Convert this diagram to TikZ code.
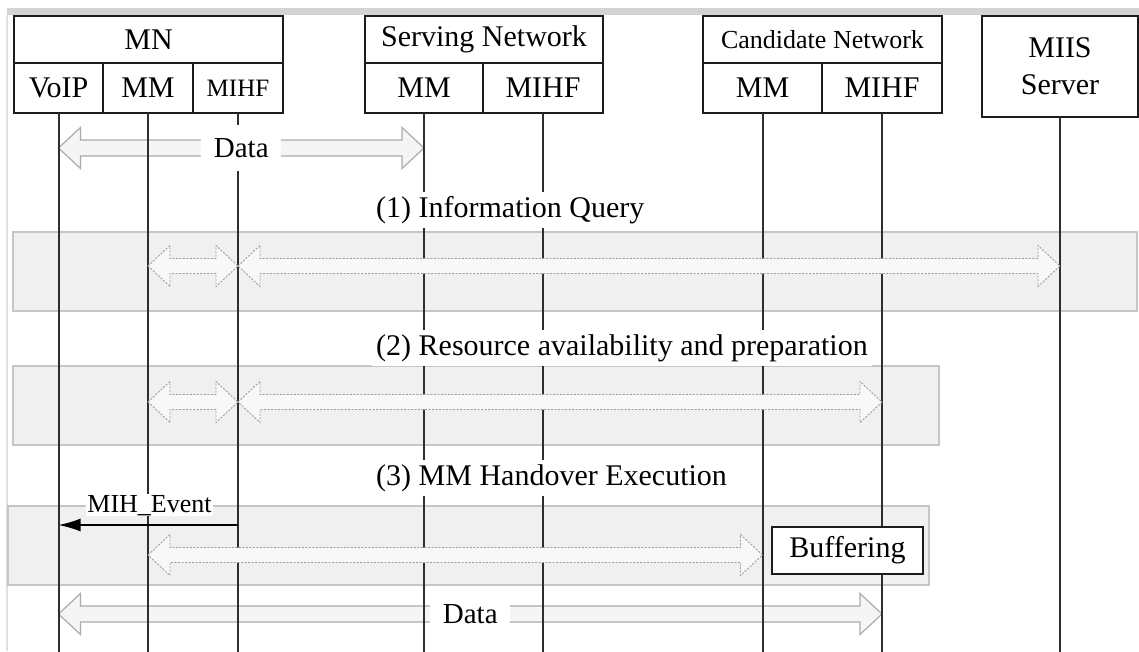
\documentclass[tikz,border=0pt]{standalone}
\usepackage{fontspec}
\setmainfont{Liberation Serif}
\usepackage{xcolor}
\usetikzlibrary{positioning,calc,arrows.meta}

\definecolor{boxline}{HTML}{1C1C1C}
\definecolor{lifecol}{HTML}{2E2E2E}
\definecolor{phasefill}{HTML}{F0F0F0}
\definecolor{phaseline}{HTML}{C6C6C6}
\definecolor{datafill}{HTML}{F5F5F5}
\definecolor{dataline}{HTML}{ABABAB}
\definecolor{queryfill}{HTML}{F8F8F8}
\definecolor{queryline}{HTML}{9C9C9C}
\definecolor{framecol}{HTML}{D3D3D3}

\tikzset{
  hdr/.style={draw=boxline, line width=2pt, rectangle, fill=white, inner sep=0pt, outer sep=0pt, minimum height=47pt, font=\fontsize{30}{37}\selectfont},
  cell/.style={hdr, minimum height=50pt},
  life/.style={draw=lifecol, line width=2pt},
  phase/.style={draw=phaseline, fill=phasefill, line width=1.4pt},
  fatarrow/.style 2 args={to path={let \p1=(\tikztostart), \p2=(\tikztotarget) in
    (\x1,\y1) -- (\x1+22pt,\y1+#1) -- (\x1+22pt,\y1+#2) -- (\x2-22pt,\y1+#2)
    -- (\x2-22pt,\y1+#1) -- (\x2,\y1) -- (\x2-22pt,\y1-#1) -- (\x2-22pt,\y1-#2)
    -- (\x1+22pt,\y1-#2) -- (\x1+22pt,\y1-#1) -- cycle}},
  dataarrow/.style={draw=dataline, fill=datafill, line width=1.2pt, fatarrow={20.5pt}{8pt}},
  queryarrow/.style={draw=queryline, fill=queryfill, line width=0.9pt, dash pattern=on 2pt off 1.5pt, fatarrow={20.5pt}{7.5pt}},
  datalbl/.style={fill=white, inner sep=0pt, minimum width=80pt, minimum height=46pt, font=\fontsize{29}{34}\selectfont},
  phaselbl/.style={fill=white, inner sep=4pt, anchor=west, font=\fontsize{30}{36}\selectfont},
  evlbl/.style={fill=white, inner sep=1pt, anchor=base, font=\fontsize{26}{30}\selectfont}
}

\begin{document}
\begin{tikzpicture}[x=1pt, y=-1pt]
  \useasboundingbox (0,0) rectangle (1139,651);
  \fill[framecol] (7,8) rectangle (1139,15);
  \draw[framecol!70, line width=1.2pt] (7,15) -- (7,651);

  \node[hdr, minimum width=269pt] (mn) at (148.5,39.5) {MN};
  \node[cell, minimum width=89pt, below right=0pt and 0pt of mn.south west] (voip) {VoIP};
  \node[cell, minimum width=90pt, right=0pt of voip] (mma) {MM};
  \node[cell, minimum width=90pt, right=0pt of mma, font=\fontsize{25}{30}\selectfont] (mihfa) {MIHF};

  \node[hdr, minimum width=238pt] (srv) at (484,39.5) {Serving Network};
  \node[cell, minimum width=118pt, below right=0pt and 0pt of srv.south west] (mmb) {MM};
  \node[cell, minimum width=120pt, right=0pt of mmb] (mihfb) {MIHF};

  \node[hdr, minimum width=239pt, font=\fontsize{26}{30}\selectfont] (cand) at (822.5,39.5) {Candidate Network};
  \node[cell, minimum width=119pt, below right=0pt and 0pt of cand.south west] (mmc) {MM};
  \node[cell, minimum width=120pt, right=0pt of mmc] (mihfc) {MIHF};

  \node[hdr, minimum width=156pt, minimum height=101pt, align=center] (miis) at (1060,66.5) {MIIS\\Server};

  \draw[phase] (13,232) rectangle (1137,311);
  \draw[phase] (13,366) rectangle (939,445);
  \draw[phase] (8,506) rectangle (929,585);

  \coordinate (d1l) at (voip.south |- 0,148);
  \coordinate (d1r) at (mmb.south |- 0,148);
  \coordinate (d2l) at (voip.south |- 0,614);
  \coordinate (d2r) at (mihfc.south |- 0,614);
  \draw[dataarrow] (d1l) to (d1r);
  \draw[dataarrow] (d2l) to (d2r);

  \foreach \n in {voip,mma,mihfa,mmb,mihfb,mmc,mihfc,miis} {
    \coordinate (\n-end) at (\n.south |- 0,655);
    \draw[life] (\n) -- (\n-end);
  }

  \coordinate (q1) at (mma.south |- 0,266);
  \coordinate (q2) at (mihfa.south |- 0,266);
  \coordinate (q3) at (miis.south |- 0,266);
  \draw[queryarrow] (q1) to (q2);
  \draw[queryarrow] (q2) to (q3);

  \coordinate (r1) at (mma.south |- 0,402);
  \coordinate (r2) at (mihfa.south |- 0,402);
  \coordinate (r3) at (mihfc.south |- 0,402);
  \draw[queryarrow] (r1) to (r2);
  \draw[queryarrow] (r2) to (r3);

  \coordinate (h1) at (mma.south |- 0,555);
  \coordinate (h2) at (mmc.south |- 0,555);
  \draw[queryarrow] (h1) to (h2);

  \node[datalbl] (data1) at ($(d1l)!0.5!(d1r)$) {Data};
  \node[datalbl] (data2) at ($(d2l)!0.5!(d2r)$) {Data};

  \node[phaselbl] (ph1) at (372,210) {(1) Information Query};
  \node[phaselbl] (ph2) at (372,348) {(2) Resource availability and preparation};
  \node[phaselbl] (ph3) at (372,478) {(3) MM Handover Execution};

  \coordinate (e1) at (mihfa.south |- 0,525);
  \coordinate (e2) at (voip.south |- 0,525);
  \node[evlbl] (mihev) at (149.5,512) {MIH\_Event};
  \draw[-{Latex[length=22pt,width=13pt]}, line width=1.5pt, black] (e1) -- (e2);

  \node[hdr, minimum width=151pt] (buf) at (847.5,550.5) {Buffering};
\end{tikzpicture}
\end{document}
